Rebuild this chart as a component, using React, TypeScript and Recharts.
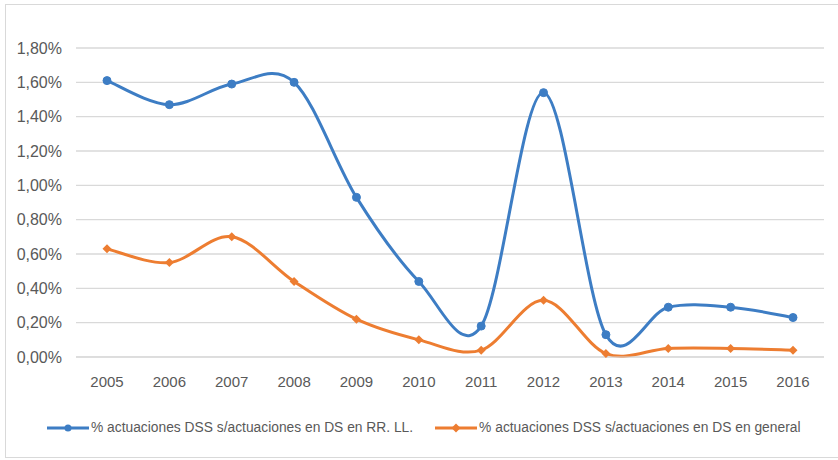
import React from 'react';
import { LineChart, Line, XAxis, YAxis, CartesianGrid } from 'recharts';

const years = ['2005', '2006', '2007', '2008', '2009', '2010', '2011', '2012', '2013', '2014', '2015', '2016'];
const rrllPct = [1.61, 1.47, 1.59, 1.6, 0.93, 0.44, 0.18, 1.54, 0.13, 0.29, 0.29, 0.23];
const generalPct = [0.63, 0.55, 0.7, 0.44, 0.22, 0.1, 0.04, 0.33, 0.02, 0.05, 0.05, 0.04];
const yTicks = [0, 0.2, 0.4, 0.6, 0.8, 1.0, 1.2, 1.4, 1.6, 1.8];
const seriesNames = [
  '% actuaciones DSS s/actuaciones en DS en RR. LL.',
  '% actuaciones DSS s/actuaciones en DS en general',
];

const data = years.map((year, i) => ({ year, rrll: rrllPct[i], general: generalPct[i] }));

const BLUE = '#3d7dc4';
const ORANGE = '#ed7d31';
const TEXT = '#595959';
const GRID = '#d9d9d9';
const FONT = '"Liberation Sans", Arial, sans-serif';

// Excel-like smoothing: Catmull-Rom through every point
const smoothCurve = (context: any) => {
  let xs: number[] = [];
  let ys: number[] = [];
  return {
    areaStart() {},
    areaEnd() {},
    lineStart() {
      xs = [];
      ys = [];
    },
    point(x: number, y: number) {
      xs.push(+x);
      ys.push(+y);
    },
    lineEnd() {
      const n = xs.length;
      if (!n) return;
      context.moveTo(xs[0], ys[0]);
      for (let i = 0; i < n - 1; i++) {
        const a = Math.max(i - 1, 0);
        const d = Math.min(i + 2, n - 1);
        const c1x = xs[i] + (xs[i + 1] - xs[a]) / 6;
        const c1y = ys[i] + (ys[i + 1] - ys[a]) / 6;
        const c2x = xs[i + 1] - (xs[d] - xs[i]) / 6;
        const c2y = ys[i + 1] - (ys[d] - ys[i]) / 6;
        context.bezierCurveTo(c1x, c1y, c2x, c2y, xs[i + 1], ys[i + 1]);
      }
    },
  };
};

const fmt = (v: number) => v.toFixed(2).replace('.', ',') + '%';

const Diamond = (props: any) => {
  const { cx, cy, fill } = props;
  if (cx == null || cy == null) return null;
  const s = 4.5;
  return <polygon points={`${cx},${cy - s} ${cx + s},${cy} ${cx},${cy + s} ${cx - s},${cy}`} fill={fill} />;
};

const LegendItem = ({ color, label, diamond }: { color: string; label: string; diamond?: boolean }) => (
  <div style={{ display: 'flex', alignItems: 'center' }}>
    <svg width={42} height={12} style={{ marginRight: 2 }}>
      <line x1={0} y1={6} x2={42} y2={6} stroke={color} strokeWidth={3} />
      {diamond ? <polygon points="21,1.5 25.5,6 21,10.5 16.5,6" fill={color} /> : <circle cx={21} cy={6} r={3.5} fill={color} />}
    </svg>
    <span>{label}</span>
  </div>
);

export default function App() {
  return (
    <div style={{ position: 'absolute', left: 0, top: 0, width: 838, height: 460, background: '#fff', fontFamily: FONT, overflow: 'hidden' }}>
      <div style={{ position: 'absolute', left: 5, top: 4, width: 840, height: 452, border: `1px solid ${GRID}` }} />
      <div style={{ position: 'absolute', left: 0, top: 0 }}>
        <LineChart width={838} height={392} data={data} margin={{ top: 48, right: 14, bottom: 0, left: 0 }}>
          <CartesianGrid vertical={false} stroke={GRID} strokeWidth={1.3} />
          <XAxis
            dataKey="year"
            axisLine={{ stroke: GRID }}
            tickLine={false}
            tickMargin={13}
            height={35}
            padding={{ left: 31, right: 31 }}
            tick={{ fill: TEXT, fontSize: 15, fontFamily: FONT }}
          />
          <YAxis
            domain={[0, 1.8]}
            ticks={yTicks}
            tickFormatter={fmt}
            axisLine={false}
            tickLine={false}
            width={76}
            tickMargin={8}
            tick={{ fill: TEXT, fontSize: 16, fontFamily: FONT }}
          />
          <Line
            dataKey="rrll"
            type={smoothCurve as any}
            stroke={BLUE}
            strokeWidth={3}
            dot={{ r: 4, fill: BLUE, stroke: BLUE, strokeWidth: 1 }}
            isAnimationActive={false}
          />
          <Line
            dataKey="general"
            type={smoothCurve as any}
            stroke={ORANGE}
            strokeWidth={3}
            dot={(p: any) => <Diamond key={`d-${p.index}`} {...p} fill={ORANGE} />}
            isAnimationActive={false}
          />
        </LineChart>
      </div>
      <div
        style={{
          position: 'absolute',
          left: 47,
          top: 420,
          display: 'flex',
          gap: 22,
          fontSize: 13.8,
          color: TEXT,
          whiteSpace: 'nowrap',
        }}
      >
        <LegendItem color={BLUE} label={seriesNames[0]} />
        <LegendItem color={ORANGE} label={seriesNames[1]} diamond />
      </div>
    </div>
  );
}
